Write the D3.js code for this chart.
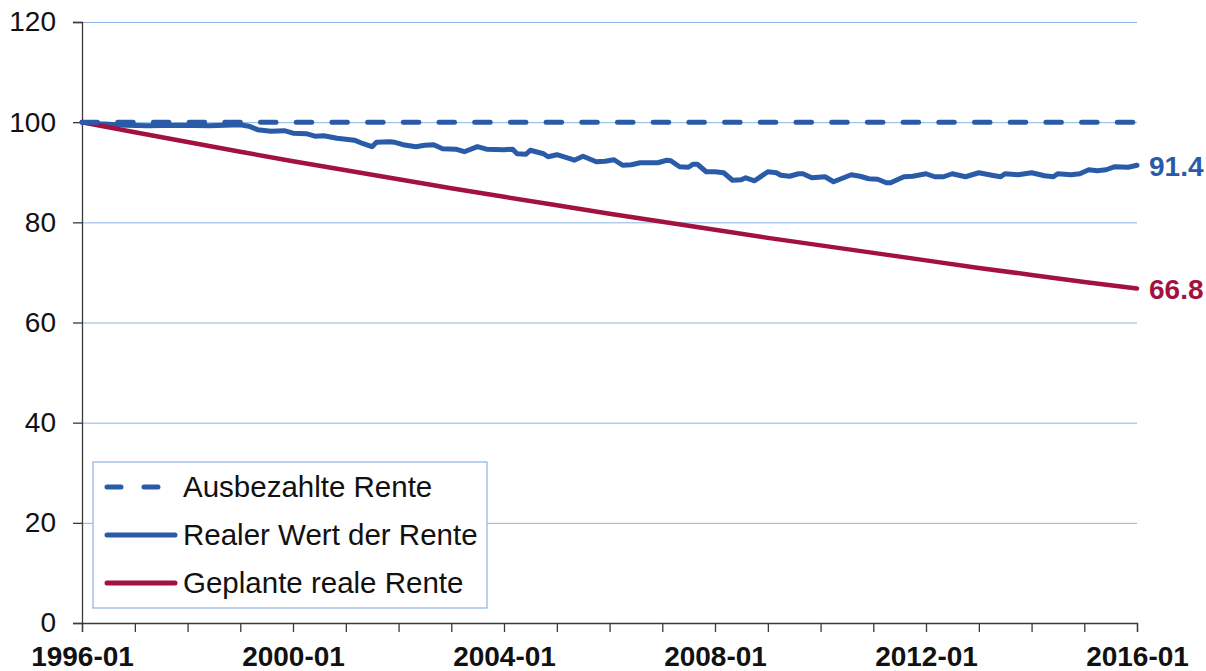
<!DOCTYPE html>
<html>
<head>
<meta charset="utf-8">
<script src="https://cdn.jsdelivr.net/npm/d3@7"></script>
<style>
  body { margin: 0; background: #fff; }
  svg { font-family: "Liberation Sans", Arial, sans-serif; }
  .axis path, .axis line { stroke: #3a3a3a; stroke-width: 1.3; }
  .axis text { fill: #111; font-size: 28px; }
  .axis--x text { font-weight: bold; }
  .grid line { stroke: #8db4e2; stroke-width: 1; }
  .grid path { display: none; }
</style>
</head>
<body>
<svg id="chart" width="1206" height="671"></svg>
<script>
// data
var paidDates = ["1996-01", "2016-01"];
var paidValues = [100, 100];

var realDates = ["1996-01","1996-05","1996-07","1996-11","1997-04","1997-11","1998-06","1999-01","1999-03","1999-05",
  "1999-08","1999-11","2000-01","2000-04","2000-06","2000-08","2000-11","2001-01","2001-03","2001-05",
  "2001-07","2001-08","2001-11","2001-12","2002-02","2002-05","2002-07","2002-09","2002-11","2003-02",
  "2003-04","2003-07","2003-09","2004-01","2004-03","2004-04","2004-06","2004-07","2004-10","2004-11",
  "2005-01","2005-04","2005-05","2005-07","2005-10","2005-12","2006-02","2006-04","2006-06","2006-08",
  "2006-12","2007-02","2007-03","2007-05","2007-07","2007-08","2007-09","2007-11","2008-01","2008-03",
  "2008-05","2008-07","2008-08","2008-10","2009-01","2009-03","2009-04","2009-06","2009-08","2009-09",
  "2009-11","2010-02","2010-04","2010-06","2010-08","2010-10","2010-12","2011-02","2011-04","2011-05",
  "2011-08","2011-10","2012-01","2012-03","2012-05","2012-07","2012-10","2013-01","2013-04","2013-06",
  "2013-07","2013-10","2014-01","2014-04","2014-06","2014-07","2014-10","2014-12","2015-02","2015-04",
  "2015-06","2015-08","2015-11","2016-01"];
var realValues = [100, 99.7, 99.6, 99.4, 99.3, 99.4, 99.3, 99.5, 99.2, 98.5,
  98.2, 98.3, 97.8, 97.7, 97.2, 97.3, 96.8, 96.6, 96.4, 95.7,
  95.1, 96.0, 96.1, 96.0, 95.5, 95.1, 95.4, 95.5, 94.7, 94.6,
  94.1, 95.1, 94.6, 94.5, 94.6, 93.7, 93.6, 94.4, 93.7, 93.1,
  93.5, 92.7, 92.4, 93.2, 92.1, 92.2, 92.5, 91.4, 91.5, 91.9,
  91.9, 92.4, 92.3, 91.1, 91.0, 91.6, 91.6, 90.1, 90.1, 89.9,
  88.4, 88.5, 88.9, 88.3, 90.1, 89.9, 89.4, 89.2, 89.7, 89.7,
  88.9, 89.1, 88.1, 88.8, 89.5, 89.2, 88.7, 88.6, 87.9, 87.9,
  89.1, 89.2, 89.7, 89.1, 89.1, 89.7, 89.1, 89.9, 89.4, 89.1,
  89.7, 89.5, 89.9, 89.3, 89.1, 89.7, 89.5, 89.7, 90.5, 90.3,
  90.5, 91.1, 91.0, 91.4];

var plannedDates = ["1996-01","1997-01","1998-01","1999-01","2000-01","2001-01","2002-01","2003-01","2004-01","2005-01",
  "2006-01","2007-01","2008-01","2009-01","2010-01","2011-01","2012-01","2013-01","2014-01","2015-01","2016-01"];
var plannedValues = [100, 98, 96.04, 94.1, 92.2, 90.4, 88.6, 86.8, 85.1, 83.4,
  81.7, 80.1, 78.5, 76.9, 75.4, 73.9, 72.4, 70.9, 69.5, 68.1, 66.8];

var yTicks = [0, 20, 40, 60, 80, 100, 120];
var seriesNames = ["Ausbezahlte Rente", "Realer Wert der Rente", "Geplante reale Rente"];

var blue = "#2a5ba8", red = "#a3123f";

// define svg parameters
var svg = d3.select("#chart"),
  margin = {top: 22, right: 69, bottom: 48, left: 82},
  width = +svg.attr("width") - margin.left - margin.right,
  height = +svg.attr("height") - margin.top - margin.bottom;

var parse = d3.timeParse("%Y-%m");
function pairs(dates, values) {
  return dates.map(function(d, i) { return {date: parse(d), value: values[i]}; });
}
var paid = pairs(paidDates, paidValues),
    real = pairs(realDates, realValues),
    planned = pairs(plannedDates, plannedValues);

// scale x and y axis
var x = d3.scaleTime().domain([parse("1996-01"), parse("2016-01")]).range([0, width]),
    y = d3.scaleLinear().domain([0, 120]).range([height, 0]);

var g = svg.append("g")
  .attr("transform", "translate(" + margin.left + "," + margin.top + ")");

// gridlines
g.append("g")
  .attr("class", "grid")
  .call(d3.axisLeft(y).tickValues(yTicks.slice(1)).tickSize(-width).tickFormat(""));

// y axis
g.append("g")
  .attr("class", "axis axis--y")
  .call(d3.axisLeft(y).tickValues(yTicks).tickSize(9).tickPadding(17));

// x axis, a tick every year, label every 4 years
g.append("g")
  .attr("class", "axis axis--x")
  .attr("transform", "translate(0," + height + ")")
  .call(d3.axisBottom(x)
    .ticks(d3.timeYear.every(1))
    .tickSize(9)
    .tickPadding(14)
    .tickFormat(function(d) { return d.getFullYear() % 4 === 0 ? d3.timeFormat("%Y-%m")(d) : ""; }));

var line = d3.line()
  .x(function(d) { return x(d.date); })
  .y(function(d) { return y(d.value); });

// draw lines
g.append("path").datum(real)
  .attr("fill", "none").attr("stroke", blue).attr("stroke-width", 5)
  .attr("stroke-linejoin", "round").attr("stroke-linecap", "round")
  .attr("d", line);

g.append("path").datum(planned)
  .attr("fill", "none").attr("stroke", red).attr("stroke-width", 4.5)
  .attr("stroke-linecap", "round")
  .attr("d", line);

g.append("path").datum(paid)
  .attr("fill", "none").attr("stroke", blue).attr("stroke-width", 5)
  .attr("stroke-linecap", "round").attr("stroke-dasharray", "15.5,20.2")
  .attr("d", line);

// end labels
[[real, blue], [planned, red]].forEach(function(s) {
  var last = s[0][s[0].length - 1];
  g.append("text")
    .attr("x", x(last.date) + 12)
    .attr("y", y(last.value))
    .attr("dy", "0.38em")
    .attr("fill", s[1])
    .style("font-size", "28px")
    .style("font-weight", "bold")
    .text(d3.format(".1f")(last.value));
});

// legend
var legend = svg.append("g").attr("transform", "translate(93,462)");
legend.append("rect")
  .attr("width", 394).attr("height", 146)
  .attr("fill", "#fff").attr("stroke", "#8db4e2").attr("stroke-width", 1.2);

var styles = [
  {stroke: blue, dash: "14,23"},
  {stroke: blue, dash: null},
  {stroke: red, dash: null}
];
seriesNames.forEach(function(name, i) {
  var ly = 25 + i * 48;
  legend.append("line")
    .attr("x1", 14).attr("x2", 82).attr("y1", ly).attr("y2", ly)
    .attr("stroke", styles[i].stroke).attr("stroke-width", 5)
    .attr("stroke-linecap", "round")
    .attr("stroke-dasharray", styles[i].dash);
  legend.append("text")
    .attr("x", 90).attr("y", ly).attr("dy", "0.35em")
    .attr("fill", "#111")
    .style("font-size", "29.5px")
    .text(name);
});
</script>
</body>
</html>
